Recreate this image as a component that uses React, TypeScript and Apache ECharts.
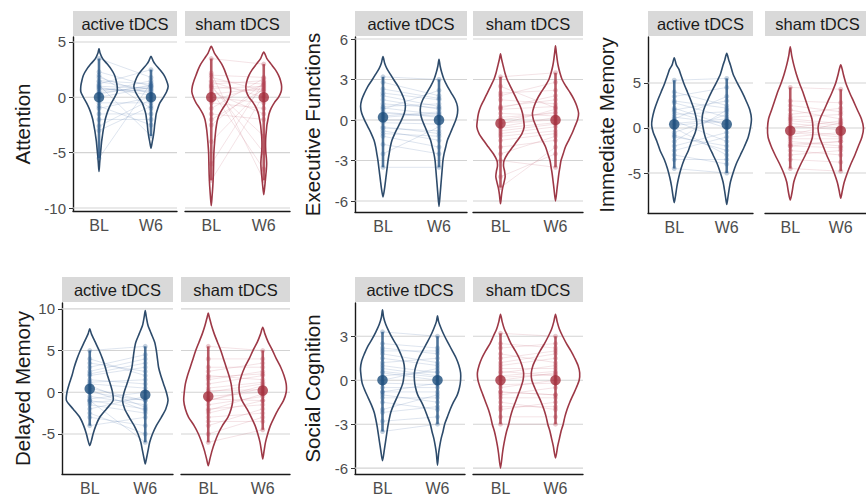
import React, { useEffect, useRef } from "react";
import * as echarts from "echarts";

// ---------------- data ----------------
const timepoints = ["BL", "W6"];
const groupNames = ["active tDCS", "sham tDCS"];
const domainNames = ["Attention", "Executive Functions", "Immediate Memory", "Delayed Memory", "Social Cognition"];

const yTicks = [
  [-10, -5, 0, 5],
  [-6, -3, 0, 3, 6],
  [-5, 0, 5],
  [-5, 0, 5, 10],
  [-6, -3, 0, 3],
];
const yRanges = [
  [-10.27, 5.45],
  [-6.81, 6.15],
  [-9.44, 10.1],
  [-9.8, 10.7],
  [-6.4, 5.27],
];

// group means: active BL, active W6, sham BL, sham W6
const attentionMeans = [0, 0, 0, 0];
const executiveMeans = [0.2, 0.0, -0.25, 0.0];
const immediateMeans = [0.4, 0.4, -0.3, -0.3];
const delayedMeans = [0.4, -0.3, -0.5, 0.2];
const socialMeans = [0, 0, 0, 0];

// individual z-scores (paired by position)
const attentionActiveBL = [2.3, 1.5, 1.0, 0.8, 0.5, 1.2, 2.0, -0.5, -1.0, 0.3, 1.8, -2.0, 0.0, 1.1, -5.5, 0.7, -1.5, 3.5, 0.9, -3.0, 0.4, -0.8, 1.4, -2.6];
const attentionActiveW6 = [1.0, 1.2, 0.8, 0.5, 1.5, 2.5, -1.0, -0.5, 0.0, 1.1, 0.3, -2.0, 0.9, -3.5, 1.3, 0.6, -1.5, 1.8, 0.2, -0.8, 1.0, -2.5, 0.7, -0.2];
const attentionShamBL = [1.5, 2.0, 0.8, 1.0, -0.5, 0.3, 1.2, -1.5, 3.5, -7.5, 0.6, -2.5, 1.8, 0.0, -1.0, 2.2, -4.0, 0.9, -0.3, 1.4, -6.0, 0.5, -2.0, 1.1];
const attentionShamW6 = [1.2, 1.8, 1.0, 0.5, -1.0, 0.8, 1.5, -2.0, 3.0, 0.2, -6.5, 1.3, 0.6, -0.5, 1.7, -7.5, 0.9, -3.5, 1.1, 0.0, 1.4, -1.5, 0.7, -5.0];

const executiveActiveBL = [0.5, 1.0, 2.8, -0.5, 1.5, 0.2, -1.2, 2.0, -2.5, 0.8, 0.0, 3.2, -3.5, 1.2, -0.8, 0.3, 1.8, -1.8, 0.6, -0.2, 2.3, -1.0, 0.9, -0.6];
const executiveActiveW6 = [0.3, 1.2, 1.8, -1.0, 0.8, 0.5, -2.0, 1.5, -0.5, 2.2, 0.0, 3.0, -3.5, 0.9, -1.5, 0.6, 1.0, -2.5, 0.2, -0.3, 1.6, -1.2, 0.4, -0.8];
const executiveShamBL = [0.2, -0.5, 1.5, -1.0, 3.2, -0.3, -2.0, 0.8, -5.0, -0.8, 2.0, 0.0, -1.5, 1.0, -3.0, 0.5, -4.2, 1.8, -0.2, -1.2, 0.9, -2.5, 2.5, -0.6];
const executiveShamW6 = [0.5, 0.2, 1.2, -0.5, 3.5, 0.8, -1.5, 1.0, -2.0, -0.3, 2.2, 0.6, -1.0, 1.5, -3.5, 0.3, -2.5, 2.8, 0.0, -0.8, 1.8, -1.2, 0.9, -0.2];

const immediateActiveBL = [0.5, 2.0, -1.0, 3.5, -2.5, 1.2, 5.3, -0.5, 0.0, 4.0, -4.5, 1.8, -1.5, 2.8, 0.8, -3.0, 1.0, -2.0, 0.3, 3.0, -0.8, 1.5, -3.5, 2.2];
const immediateActiveW6 = [1.0, 3.0, -2.0, 4.5, -1.0, 0.5, 5.5, 1.5, -3.0, 2.5, -5.0, 0.0, 2.0, 1.2, -1.5, -4.0, 3.5, -0.5, 0.8, 2.2, -2.5, 1.8, -3.5, 0.3];
const immediateShamBL = [-0.5, 1.0, -2.0, 2.5, -1.0, 0.0, 4.5, -3.0, 0.5, -1.5, -4.5, 1.5, -0.3, 2.0, -2.5, 0.8, -3.5, -0.8, 3.0, -1.2, 0.2, -2.0, 1.2, -1.8];
const immediateShamW6 = [-1.0, 0.5, -1.5, 1.8, -0.5, 0.8, 4.3, -2.5, 0.0, -2.0, -4.8, 2.2, -0.8, 1.0, -3.0, 0.3, -3.8, 0.6, 2.8, -1.2, -0.2, -2.2, 1.5, -1.5];

const delayedActiveBL = [-1.0, 2.0, 0.5, 3.0, -2.0, -0.5, 5.0, -3.0, 1.0, -1.5, 4.0, 0.0, -1.0, 1.5, -4.0, 2.5, -0.8, 0.8, 3.5, -2.5, 1.2, -1.2, 0.3, 2.2];
const delayedActiveW6 = [-2.0, 3.0, -1.0, 4.5, -0.5, -1.5, 5.5, -4.0, 0.5, -2.5, 2.0, -1.0, -6.0, 1.0, -3.0, 4.0, 0.0, -1.8, 2.5, -5.0, 1.5, -0.8, -2.2, 3.5];
const delayedShamBL = [-1.0, 1.0, -2.5, 3.0, -4.0, 0.0, 5.5, -5.0, 2.0, -1.5, -6.0, 1.5, -0.5, 4.0, -3.0, 0.5, -2.0, -1.0, 2.5, -3.5, 0.2, -0.8, 1.8, -2.2];
const delayedShamW6 = [0.5, 2.0, -1.0, 3.0, -2.0, 1.0, 5.0, -3.0, 1.5, -0.5, -4.5, 2.5, 0.0, 4.0, -2.5, 1.2, -1.5, 0.8, 3.5, -3.5, 0.3, -1.0, 2.2, -0.2];

const socialActiveBL = [1.0, 2.0, -1.0, 3.3, 0.5, -2.0, 1.5, -0.5, 2.5, -3.5, 0.0, 1.2, -1.5, 0.8, -2.8, 1.8, -0.8, 0.3, 2.2, -1.2, -0.2, 0.6, -2.2, -0.8];
const socialActiveW6 = [0.5, 2.0, -1.5, 3.0, 0.0, -1.0, 1.0, -0.5, 2.2, -3.0, 0.8, 1.5, -2.0, 0.3, -2.5, 1.2, -0.8, 0.6, 1.8, -1.2, -0.3, 0.2, -1.8, -0.2];
const socialShamBL = [0.5, 1.5, -1.0, 3.2, 0.0, -2.0, 1.0, -0.5, 2.2, -3.0, 0.8, 1.8, -1.5, 0.3, -2.5, 1.2, -0.8, 0.6, 2.5, -1.2, -0.3, 0.2, -1.8, -0.8];
const socialShamW6 = [1.0, 2.0, -0.5, 3.0, 0.5, -1.5, 1.5, 0.0, 2.5, -3.0, 0.8, 1.2, -2.0, 0.6, -2.5, 1.8, -1.0, 0.3, 2.2, -1.2, -0.2, 0.4, -1.8, -1.0];

// violin outlines: [score, half-width as share of the category band], top to bottom
const attentionViolins = [
  [[4.4,0],[4,0.02],[3.5,0.07],[3,0.16],[2.5,0.24],[2,0.3],[1.5,0.33],[1,0.35],[0.5,0.35],[0,0.3],[-0.5,0.24],[-1,0.19],[-1.5,0.15],[-2,0.12],[-2.5,0.1],[-3,0.08],[-3.5,0.065],[-4,0.05],[-4.5,0.04],[-5,0.03],[-5.5,0.02],[-6,0.012],[-6.7,0]],
  [[3.7,0],[3.3,0.04],[3,0.08],[2.5,0.17],[2,0.25],[1.5,0.3],[1,0.33],[0.5,0.3],[0,0.24],[-0.5,0.17],[-1,0.13],[-1.5,0.1],[-2,0.085],[-2.5,0.07],[-3,0.06],[-3.5,0.045],[-4,0.025],[-4.6,0]],
  [[4.6,0],[4,0.06],[3.5,0.13],[3,0.2],[2.5,0.25],[2,0.29],[1.5,0.33],[1,0.36],[0.5,0.37],[0,0.34],[-0.5,0.29],[-1,0.22],[-1.5,0.16],[-2,0.12],[-2.5,0.1],[-3,0.085],[-4,0.065],[-5,0.05],[-6,0.045],[-7,0.04],[-8,0.03],[-9,0.015],[-9.8,0]],
  [[4.1,0],[3.5,0.06],[3,0.14],[2.5,0.22],[2,0.28],[1.5,0.32],[1,0.34],[0.5,0.33],[0,0.28],[-0.5,0.2],[-1,0.14],[-1.5,0.1],[-2,0.08],[-2.5,0.06],[-3,0.05],[-3.5,0.04],[-4,0.035],[-4.5,0.035],[-5,0.04],[-5.5,0.05],[-6,0.055],[-6.5,0.05],[-7,0.04],[-7.5,0.03],[-8,0.02],[-8.8,0]],
];
const executiveViolins = [
  [[4.7,0],[4.2,0.03],[3.8,0.07],[3.4,0.13],[3,0.19],[2.5,0.27],[2,0.33],[1.5,0.38],[1,0.4],[0.5,0.38],[0,0.33],[-0.5,0.27],[-1,0.21],[-1.5,0.16],[-2,0.13],[-2.5,0.11],[-3,0.09],[-3.5,0.075],[-4,0.06],[-4.5,0.045],[-5,0.03],[-5.7,0]],
  [[4.5,0],[4,0.02],[3.5,0.05],[3,0.09],[2.5,0.15],[2,0.22],[1.5,0.29],[1,0.33],[0.5,0.33],[0,0.3],[-0.5,0.25],[-1,0.2],[-1.5,0.15],[-2,0.12],[-2.5,0.09],[-3,0.07],[-3.5,0.06],[-4,0.05],[-4.5,0.04],[-5,0.03],[-5.5,0.02],[-6.4,0]],
  [[4.9,0],[4.5,0.02],[4,0.05],[3.5,0.08],[3,0.12],[2.5,0.18],[2,0.24],[1.5,0.3],[1,0.36],[0.5,0.4],[0,0.42],[-0.5,0.43],[-1,0.39],[-1.5,0.31],[-2,0.22],[-2.5,0.13],[-3,0.065],[-3.4,0.055],[-3.8,0.075],[-4.2,0.085],[-4.6,0.065],[-5,0.04],[-5.5,0.02],[-6.2,0]],
  [[5.5,0],[5,0.015],[4.5,0.03],[4,0.05],[3.5,0.08],[3,0.12],[2.5,0.19],[2,0.27],[1.5,0.34],[1,0.39],[0.5,0.42],[0,0.4],[-0.5,0.35],[-1,0.3],[-1.5,0.24],[-2,0.18],[-2.5,0.14],[-3,0.1],[-3.5,0.08],[-4,0.06],[-4.5,0.045],[-5,0.03],[-6,0]],
];
const immediateViolins = [
  [[7.8,0],[7,0.04],[6.5,0.09],[6,0.12],[5,0.18],[4,0.25],[3,0.32],[2,0.38],[1,0.42],[0.3,0.43],[-0.5,0.4],[-1.5,0.33],[-2.5,0.27],[-3.5,0.19],[-4.5,0.13],[-5.5,0.085],[-6.5,0.05],[-7.5,0.025],[-8.3,0]],
  [[8.3,0],[7.5,0.04],[7,0.07],[6,0.12],[5,0.2],[4,0.29],[3,0.37],[2,0.44],[1,0.47],[0,0.45],[-1,0.41],[-2,0.34],[-3,0.26],[-4,0.18],[-5,0.12],[-6,0.07],[-7,0.04],[-7.8,0.02],[-8.5,0]],
  [[9,0],[8,0.03],[7,0.07],[6,0.12],[5,0.18],[4,0.25],[3,0.31],[2,0.37],[1,0.43],[0,0.45],[-1,0.44],[-2,0.38],[-3,0.3],[-4,0.21],[-5,0.13],[-6,0.07],[-7,0.04],[-8,0]],
  [[7,0],[6.5,0.03],[6,0.05],[5,0.1],[4,0.17],[3,0.25],[2,0.33],[1,0.41],[0,0.45],[-1,0.42],[-2,0.35],[-3,0.28],[-4,0.2],[-5,0.13],[-6,0.07],[-7,0.03],[-7.8,0]],
];
const delayedViolins = [
  [[7.6,0],[7,0.03],[6,0.1],[5,0.17],[4,0.23],[3,0.28],[2,0.32],[1,0.37],[0,0.41],[-1,0.42],[-2,0.3],[-3,0.18],[-4,0.11],[-5,0.06],[-5.8,0.03],[-6.4,0]],
  [[9.8,0],[9,0.02],[8,0.05],[7,0.11],[6,0.17],[5,0.2],[4,0.22],[3,0.24],[2,0.28],[1,0.33],[0,0.38],[-1,0.41],[-2,0.37],[-3,0.29],[-4,0.2],[-5,0.13],[-6,0.08],[-7,0.05],[-8,0.02],[-8.6,0]],
  [[9.5,0],[9,0.02],[8,0.06],[7,0.11],[6,0.17],[5,0.23],[4,0.28],[3,0.33],[2,0.38],[1,0.42],[0,0.44],[-1,0.45],[-2,0.42],[-3,0.36],[-4,0.26],[-5,0.18],[-6,0.12],[-7,0.07],[-8,0.03],[-8.8,0]],
  [[7.8,0],[7,0.04],[6,0.1],[5,0.18],[4,0.25],[3,0.33],[2,0.39],[1,0.43],[0,0.43],[-1,0.38],[-2,0.29],[-3,0.21],[-4,0.14],[-5,0.09],[-6,0.05],[-7,0.025],[-8,0]],
];
const socialViolins = [
  [[4.8,0],[4.3,0.02],[3.8,0.06],[3.3,0.12],[2.8,0.19],[2.3,0.27],[1.8,0.33],[1.3,0.38],[0.8,0.4],[0.3,0.39],[-0.2,0.37],[-0.7,0.32],[-1.2,0.26],[-1.7,0.2],[-2.2,0.15],[-2.7,0.12],[-3.2,0.095],[-3.7,0.075],[-4.2,0.055],[-4.7,0.035],[-5.5,0]],
  [[4.4,0],[4,0.02],[3.5,0.07],[3,0.13],[2.5,0.2],[2,0.27],[1.5,0.34],[1,0.39],[0.5,0.42],[0,0.42],[-0.5,0.4],[-1,0.36],[-1.5,0.29],[-2,0.23],[-2.5,0.18],[-3,0.13],[-3.5,0.1],[-4,0.065],[-4.5,0.04],[-5,0.02],[-5.8,0]],
  [[4.5,0],[4,0.03],[3.5,0.07],[3,0.13],[2.5,0.19],[2,0.27],[1.5,0.34],[1,0.39],[0.5,0.42],[0,0.41],[-0.5,0.37],[-1,0.32],[-1.5,0.27],[-2,0.22],[-2.5,0.18],[-3,0.15],[-3.5,0.11],[-4,0.08],[-4.5,0.055],[-5,0.035],[-6,0]],
  [[4.5,0],[4,0.03],[3.5,0.07],[3,0.13],[2.5,0.2],[2,0.28],[1.5,0.35],[1,0.41],[0.5,0.44],[0,0.43],[-0.5,0.38],[-1,0.32],[-1.5,0.26],[-2,0.21],[-2.5,0.17],[-3,0.14],[-3.5,0.1],[-4,0.07],[-4.5,0.04],[-5.3,0]],
];

const panelMeans = [attentionMeans, executiveMeans, immediateMeans, delayedMeans, socialMeans];
const panelViolins = [attentionViolins, executiveViolins, immediateViolins, delayedViolins, socialViolins];
const panelScores = [
  [[attentionActiveBL, attentionActiveW6], [attentionShamBL, attentionShamW6]],
  [[executiveActiveBL, executiveActiveW6], [executiveShamBL, executiveShamW6]],
  [[immediateActiveBL, immediateActiveW6], [immediateShamBL, immediateShamW6]],
  [[delayedActiveBL, delayedActiveW6], [delayedShamBL, delayedShamW6]],
  [[socialActiveBL, socialActiveW6], [socialShamBL, socialShamW6]],
];

// ---------------- layout & style ----------------
const LAYOUT = [
  { lefts: [73, 185], widths: [104, 105], top: 37, height: 174, nameGap: 40 },
  { lefts: [355, 473], widths: [112, 110], top: 37, height: 175, nameGap: 32 },
  { lefts: [648, 765], widths: [105, 105], top: 37, height: 176, nameGap: 31 },
  { lefts: [62, 181], widths: [111, 109], top: 303, height: 175, nameGap: 29 },
  { lefts: [355, 473], widths: [110, 110], top: 303, height: 175, nameGap: 32 },
];
const STRIP_H = 25;
const FONT = "'Liberation Sans', Arial, Helvetica, sans-serif";
const PALETTE = [
  { outline: "#2d4b6b", dot: "#1d4d7c", range: "rgba(34,80,128,0.8)", point: "rgba(50,96,148,0.35)", line: "rgba(78,118,168,0.19)" },
  { outline: "#9d3846", dot: "#a42f3d", range: "rgba(164,46,60,0.8)", point: "rgba(180,66,82,0.35)", line: "rgba(190,88,104,0.17)" },
];

function buildOption() {
  const grids: any[] = [];
  const xAxes: any[] = [];
  const yAxes: any[] = [];
  const series: any[] = [];
  const graphics: any[] = [];

  LAYOUT.forEach((lay, p) => {
    for (let k = 0; k < 2; k++) {
      const g = p * 2 + k;
      const left = lay.lefts[k];
      const width = lay.widths[k];
      grids.push({ left, top: lay.top, width, height: lay.height, containLabel: false });
      xAxes.push({
        type: "category",
        gridIndex: g,
        data: timepoints,
        boundaryGap: true,
        axisLine: { onZero: false, lineStyle: { color: "#1a1a1a", width: 1.4 } },
        axisTick: { alignWithLabel: true, length: 4, lineStyle: { color: "#333", width: 1 } },
        axisLabel: { color: "#4d4d4d", fontSize: 16, margin: 6, fontFamily: FONT },
        splitLine: { show: false },
      });
      yAxes.push({
        type: "value",
        gridIndex: g,
        min: yRanges[p][0],
        max: yRanges[p][1],
        axisLine: { show: k === 0, lineStyle: { color: "#1a1a1a", width: 1.4 } },
        axisTick: { show: k === 0, length: 4, customValues: yTicks[p], lineStyle: { color: "#333" } },
        axisLabel: { show: k === 0, customValues: yTicks[p], color: "#4d4d4d", fontSize: 15, margin: 7, fontFamily: FONT },
        splitLine: { show: false },
        name: k === 0 ? domainNames[p] : "",
        nameLocation: "middle",
        nameGap: lay.nameGap,
        nameTextStyle: { fontSize: 20.5, color: "#1a1a1a", fontFamily: FONT },
      });

      // facet strip
      graphics.push({
        type: "rect",
        silent: true,
        shape: { x: left, y: lay.top - STRIP_H - 1, width, height: STRIP_H },
        style: { fill: "#d9d9d9" },
      });
      graphics.push({
        type: "text",
        silent: true,
        style: {
          text: groupNames[k],
          x: left + width / 2,
          y: lay.top - STRIP_H / 2 - 1,
          align: "center",
          verticalAlign: "middle",
          fontSize: 16.5,
          fontFamily: FONT,
          fill: "#1a1a1a",
        },
      });

      const col = PALETTE[k];
      const [bl, w6] = panelScores[p][k];
      const profiles = panelViolins[p];
      const means = panelMeans[p];
      const common = { coordinateSystem: "cartesian2d", xAxisIndex: g, yAxisIndex: g, silent: true };

      // horizontal grid lines
      series.push({
        ...common,
        type: "custom",
        z: 1,
        data: yTicks[p].map((v) => [0, v]),
        encode: { x: 0, y: 1 },
        renderItem: (params: any, api: any) => {
          const y = api.coord([0, api.value(1)])[1];
          const cs = params.coordSys;
          return {
            type: "line",
            shape: { x1: cs.x, y1: y, x2: cs.x + cs.width, y2: y },
            style: { stroke: "#d3d3d3", lineWidth: 1.1 },
          };
        },
      });

      // subject lines BL -> W6
      series.push({
        ...common,
        type: "custom",
        z: 2,
        data: bl.map((v, i) => [0, v, w6[i]]),
        encode: { x: 0, y: [1, 2] },
        renderItem: (_params: any, api: any) => {
          const a = api.coord([0, api.value(1)]);
          const b = api.coord([1, api.value(2)]);
          return {
            type: "line",
            shape: { x1: a[0], y1: a[1], x2: b[0], y2: b[1] },
            style: { stroke: col.line, lineWidth: 1 },
          };
        },
      });

      // violins
      series.push({
        ...common,
        type: "custom",
        z: 3,
        data: [[0, 0], [1, 0]],
        encode: { x: 0, y: 1 },
        renderItem: (params: any, api: any) => {
          const t = params.dataIndex;
          const prof = profiles[k * 2 + t];
          const bw = api.size([1, 0])[0];
          const cx = api.coord([t, 0])[0];
          const right = prof.map(([v, d]: number[]) => [cx + d * bw, api.coord([t, v])[1]]);
          const left = prof
            .filter(([, d]: number[]) => d > 0)
            .map(([v, d]: number[]) => [cx - d * bw, api.coord([t, v])[1]])
            .reverse();
          return {
            type: "polygon",
            shape: { points: right.concat(left), smooth: 0.25 },
            style: { fill: "none", stroke: col.outline, lineWidth: 1.6 },
          };
        },
      });

      // range of individual scores
      series.push({
        ...common,
        type: "custom",
        z: 4,
        data: [
          [0, Math.min(...bl), Math.max(...bl)],
          [1, Math.min(...w6), Math.max(...w6)],
        ],
        encode: { x: 0, y: [1, 2] },
        renderItem: (_params: any, api: any) => {
          const a = api.coord([api.value(0), api.value(1)]);
          const b = api.coord([api.value(0), api.value(2)]);
          return {
            type: "line",
            shape: { x1: a[0], y1: a[1], x2: b[0], y2: b[1] },
            style: { stroke: col.range, lineWidth: 2.6 },
          };
        },
      });

      // individual points
      series.push({
        ...common,
        type: "scatter",
        z: 5,
        symbolSize: 5,
        itemStyle: { color: col.point },
        data: bl.map((v) => [0, v]).concat(w6.map((v) => [1, v])),
      });

      // group means
      series.push({
        ...common,
        type: "scatter",
        z: 6,
        symbolSize: 10.5,
        itemStyle: { color: col.dot },
        data: [
          [0, means[k * 2]],
          [1, means[k * 2 + 1]],
        ],
      });
    }
  });

  return {
    animation: false,
    backgroundColor: "#ffffff",
    textStyle: { fontFamily: FONT },
    grid: grids,
    xAxis: xAxes,
    yAxis: yAxes,
    series,
    graphic: { elements: graphics },
  };
}

export default function App() {
  const ref = useRef<HTMLDivElement>(null);
  useEffect(() => {
    if (!ref.current) return;
    const chart = echarts.init(ref.current, undefined, { renderer: "svg" });
    chart.setOption(buildOption() as any);
    return () => chart.dispose();
  }, []);
  return (
    <div
      ref={ref}
      style={{ position: "fixed", left: 0, top: 0, width: 866, height: 496, background: "#fff" }}
    />
  );
}
